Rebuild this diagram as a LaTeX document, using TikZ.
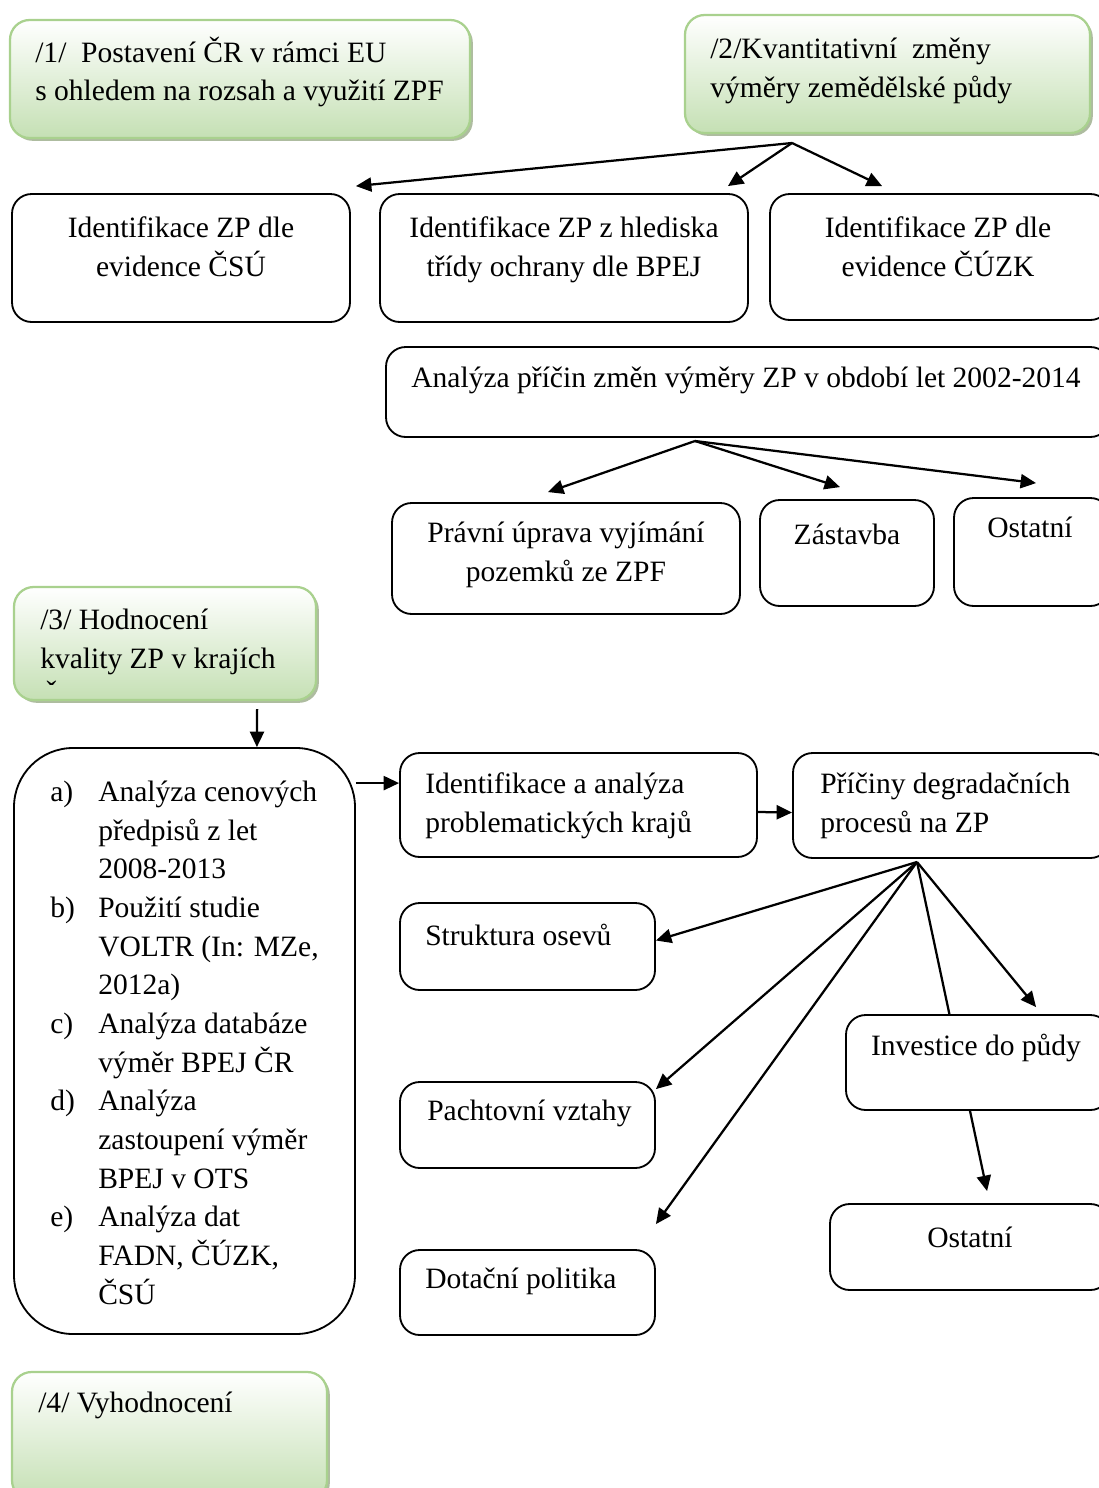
\documentclass[tikz,border=0pt]{standalone}
\usepackage{fontspec}
\setmainfont{Liberation Serif}
\usetikzlibrary{arrows.meta,shadows,fit,calc,backgrounds}
\definecolor{zelena}{RGB}{197,224,180}
\definecolor{zelenaokraj}{RGB}{169,209,142}
\definecolor{stin}{RGB}{140,160,120}

\begin{document}
\begin{tikzpicture}[x=0.025cm,y=-0.025cm,
  every node/.style={font=\fontsize{21}{27.5}\selectfont,inner sep=0pt},
  box/.style={draw,line width=1.3pt,rounded corners=14pt,fill=white},
  zbox/.style={draw=zelenaokraj,line width=1.6pt,rounded corners=14pt,top color=white,bottom color=zelena,
    drop shadow={shadow xshift=2pt,shadow yshift=-2pt,fill=stin,opacity=.7}},
  txt/.style={align=center},
  ltxt/.style={align=left,anchor=west},
  arr/.style={-{Triangle[length=11pt,width=10pt]},line width=1.6pt}]
\useasboundingbox (0,0) rectangle (1099,1488);
\clip (0,0) rectangle (1099,1488);
\node[zbox,fit={(10,20)(470,138)}](g1){};
\node[ltxt] at(35,72){/1/\ \ Postavení ČR v rámci EU\\s ohledem na rozsah a využití ZPF};
\node[zbox,fit={(685,15)(1090,133)}](g2){};
\node[ltxt] at(710,71){/2/Kvantitativní\ \ změny\\výměry zemědělské půdy};
\node[box,fit={(12,194)(350,322)}](csu){};
\node[txt] at(181,247){Identifikace ZP dle\\evidence ČSÚ};
\node[box,fit={(380,194)(748,322)}](bpej){};
\node[txt] at(564,250){Identifikace ZP z hlediska\\třídy ochrany dle BPEJ};
\node[box,fit={(770,194)(1110,320)}](cuzk){};
\node[txt] at(938,247){Identifikace ZP dle\\evidence ČÚZK};
\node[box,fit={(386,347)(1110,437)}](pricin){};
\node[txt] at(746,380){Analýza příčin změn výměry ZP v období let 2002-2014};
\node[box,fit={(392,503)(740,614)}](pravni){};
\node[txt] at(566,555){Právní úprava vyjímání\\pozemků ze ZPF};
\node[box,fit={(760,500)(934,606)}](zastavba){};
\node[txt] at(847,534){Zástavba};
\node[box,fit={(954,498)(1110,606)}](ostatni){};
\node[txt] at(1030,527){Ostatní};
\node[zbox,fit={(14,587)(316,700)}](g3){};
\begin{scope}
\clip(14,587) rectangle (316,684.5);
\node[ltxt] at(40,658){/3/ Hodnocení\\kvality ZP v krajích\\ČR};
\end{scope}
\node[box,rounded corners=42pt,fit={(14,748)(355,1334)}](seznam){};
\node[anchor=north west] at(50,774){\begin{tabular}{@{}p{1.2cm}@{}l@{}}
a) & Analýza cenových\\ & předpisů z let\\ & 2008-2013\\
b) & Použití studie\\ & VOLTR (In: MZe,\\ & 2012a)\\
c) & Analýza databáze\\ & výměr BPEJ ČR\\
d) & Analýza\\ & zastoupení výměr\\ & BPEJ v OTS\\
e) & Analýza dat\\ & FADN, ČÚZK,\\ & ČSÚ
\end{tabular}};
\node[box,fit={(400,753)(757,857)}](kraje){};
\node[ltxt] at(425,806){Identifikace a analýza\\problematických krajů};
\node[box,fit={(793,753)(1110,858)}](degrad){};
\node[ltxt] at(820,806){Příčiny degradačních\\procesů na ZP};
\node[box,fit={(400,903)(655,990)}](osevy){};
\node[ltxt] at(425,935){Struktura osevů};
\node[box,fit={(400,1082)(655,1168)}](pacht){};
\node[ltxt] at(427,1113){Pachtovní vztahy};
\node[box,fit={(400,1250)(655,1335)}](dotace){};
\node[ltxt] at(425,1281){Dotační politika};
\node[box,fit={(846,1015)(1110,1110)}](investice){};
\node[txt] at(976,1048){Investice do půdy};
\node[box,fit={(830,1204)(1110,1290)}](ostatni2){};
\node[txt] at(970,1237){Ostatní};
\node[zbox,fit={(12,1372)(327,1500)}](g4){};
\node[ltxt] at(38,1405){/4/ Vyhodnocení};
\coordinate(s2) at(792,143);
\coordinate(s5) at(695,441);
\coordinate(s13) at(917,862);
\begin{scope}[on background layer]
\path[arr](s2)edge($(csu.north east)+(5,-7)$)
  edge($(bpej.north east)+(-21,-7)$)
  edge($(cuzk.north west)+(113,-7)$);
\path[arr](s5)edge($(pravni.north)+(-18,-10)$)
  edge($(zastavba.north)+(-7,-12)$)
  edge($(ostatni.north west)+(83,-14)$);
\path[arr]($(g3.south east)+(-60,8)$)edge($(seznam.north east)+(-99,0)$)
  ($(seznam.north east)+(0,36)$)edge($(kraje.north west)+(0,31)$)
  ($(kraje.east)+(0,7)$)edge($(degrad.west)+(0,7)$);
\path[arr](s13)edge($(osevy.east)+(0,-6)$)
  edge($(pacht.north east)+(0,8)$)
  edge($(dotace.north east)+(0,-25)$)
  edge($(investice.north west)+(191,-7)$)
  edge($(ostatni2.north west)+(158,-12)$);
\end{scope}
\end{tikzpicture}
\end{document}
